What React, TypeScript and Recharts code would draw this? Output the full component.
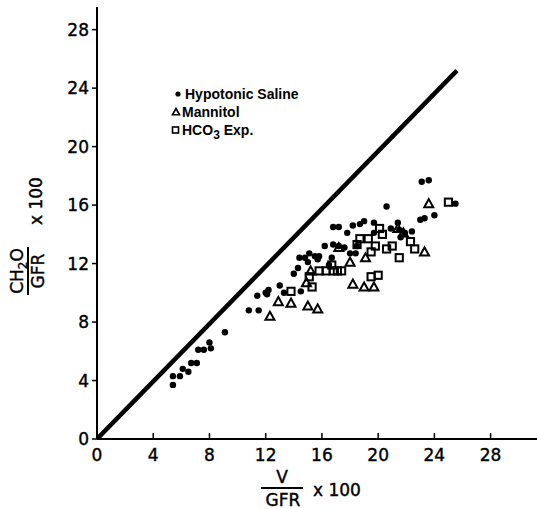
import { Legend, Scatter, ScatterChart, XAxis, YAxis } from "recharts";

const X_TICKS = [0, 4, 8, 12, 16, 20, 24, 28];
const Y_TICKS = [0, 4, 8, 12, 16, 20, 24, 28];

// [V/GFR x 100, CH2O/GFR x 100]
const HYPOTONIC_SALINE: [number, number][] = [
  [5.4, 3.7], [5.4, 4.3], [5.9, 4.3], [6.1, 4.8], [6.5, 4.6], [6.7, 5.2],
  [7.1, 5.2], [7.2, 6.1], [7.6, 6.1], [8.0, 6.6], [8.1, 6.2], [9.1, 7.3],
  [10.8, 8.8], [11.5, 8.8], [11.4, 9.8], [12.0, 10.0], [12.2, 10.2],
  [12.1, 9.9], [13.0, 10.5], [13.3, 10.0], [14.0, 11.3], [14.3, 11.7],
  [14.4, 12.4], [14.8, 12.4], [14.5, 10.1], [15.0, 12.1], [15.1, 12.7],
  [15.5, 12.5], [15.8, 12.5], [15.7, 12.3], [16.2, 13.2], [16.7, 12.4],
  [16.5, 11.9], [16.8, 14.5], [17.2, 14.5], [16.8, 13.3], [17.2, 13.2],
  [17.6, 13.1], [17.8, 14.1], [18.0, 12.7], [18.2, 14.6], [18.4, 12.7],
  [18.7, 14.7], [19.0, 14.9], [18.5, 13.2], [19.7, 14.8], [20.6, 15.9],
  [19.7, 14.1], [20.9, 14.4], [21.4, 14.8], [21.5, 14.3], [21.9, 14.1],
  [21.6, 13.8], [22.4, 14.2], [23.0, 15.0], [23.3, 15.1], [23.1, 17.6],
  [23.6, 17.7], [24.0, 15.3], [25.5, 16.1],
];

const MANNITOL: [number, number][] = [
  [12.3, 8.4], [12.9, 9.4], [13.8, 9.3], [15.0, 9.1], [15.7, 8.9],
  [14.9, 10.7], [15.2, 11.5], [17.2, 13.1], [18.0, 12.1], [18.2, 10.6],
  [19.0, 10.4], [19.7, 10.4], [19.1, 12.4], [21.4, 14.4], [21.8, 14.1],
  [23.3, 12.8], [23.6, 16.1],
];

const HCO3_EXP: [number, number][] = [
  [13.8, 10.1], [15.3, 10.4], [15.1, 11.1], [15.8, 11.5], [16.3, 11.5],
  [16.7, 11.9], [16.8, 11.5], [17.1, 11.5], [17.4, 11.5], [18.5, 13.3],
  [18.7, 13.7], [19.3, 13.7], [19.5, 12.8], [19.8, 13.2], [19.5, 11.1],
  [20.0, 11.2], [20.1, 14.4], [20.3, 14.0], [20.6, 13.0], [21.0, 13.2],
  [21.5, 12.4], [22.3, 13.5], [22.6, 13.0], [25.0, 16.2],
];

const IDENTITY_LINE: [number, number][] = [[0, 0], [25.6, 25.2]];

const toPoints = (rows: [number, number][]) => rows.map(([x, y]) => ({ x, y }));

const FONT = "'DejaVu Sans', sans-serif";

function DotShape({ cx, cy }: any) {
  return <circle cx={cx} cy={cy} r={3.2} fill="#000" />;
}

function TriangleShape({ cx, cy }: any) {
  const s = 4.5;
  return (
    <polygon
      points={`${cx},${cy - s} ${cx + s},${cy + s * 0.8} ${cx - s},${cy + s * 0.8}`}
      fill="none"
      stroke="#000"
      strokeWidth={2}
    />
  );
}

function SquareShape({ cx, cy }: any) {
  return (
    <rect x={cx - 3.6} y={cy - 3.6} width={7.2} height={7.2} fill="none" stroke="#000" strokeWidth={2} />
  );
}

function NoShape() {
  return <g />;
}

// x ticks point up into the plot, labels sit below
function XTick({ x, y, payload }: any) {
  return (
    <g>
      <line x1={x} x2={x} y1={y} y2={y - 6} stroke="#000" strokeWidth={1.5} />
      <text x={x} y={y + 22} textAnchor="middle" fontSize={17} fontFamily={FONT} fill="#000" stroke="#000" strokeWidth={0.4}>
        {payload.value}
      </text>
    </g>
  );
}

function XTitle({ viewBox }: any) {
  const cx = viewBox.x + 185;
  const top = viewBox.y;
  return (
    <g fontFamily={FONT} fontSize={17} fill="#000" stroke="#000" strokeWidth={0.4}>
      <text x={cx} y={top + 44} textAnchor="middle">V</text>
      <line x1={cx - 21} x2={cx + 21} y1={top + 49} y2={top + 49} stroke="#000" strokeWidth={2} />
      <text x={cx + 1} y={top + 67} textAnchor="middle">GFR</text>
      <text x={cx + 31} y={top + 57}>x 100</text>
    </g>
  );
}

function YTitle({ viewBox }: any) {
  const cx = 28;
  const cy = viewBox.y + 264;
  return (
    <g fontFamily={FONT} fontSize={17} fill="#000" stroke="#000" strokeWidth={0.4} transform={`rotate(-90, ${cx}, ${cy})`}>
      <text x={cx} y={cy - 5} textAnchor="middle">
        CH<tspan fontSize={12} dy={4}>2</tspan>
        <tspan dy={-4}>O</tspan>
      </text>
      <line x1={cx - 24} x2={cx + 24} y1={cy} y2={cy} stroke="#000" strokeWidth={2} />
      <text x={cx} y={cy + 16} textAnchor="middle">GFR</text>
      <text x={cx + 46} y={cy + 14}>x 100</text>
    </g>
  );
}

const LEGEND_ROWS = [
  { name: "Hypotonic Saline", mark: "dot" },
  { name: "Mannitol", mark: "triangle" },
  { name: "HCO3 Exp.", mark: "square" },
];

function LegendBox() {
  return (
    <svg width={150} height={68} style={{ display: "block" }}>
      {LEGEND_ROWS.map((row, i) => {
        const cy = 10 + i * 18;
        return (
          <g key={row.name}>
            {row.mark === "dot" && <circle cx={8} cy={cy} r={2.6} fill="#000" />}
            {row.mark === "triangle" && (
              <polygon points={`6,${cy - 3.5} 9.5,${cy + 2.8} 2.5,${cy + 2.8}`} fill="none" stroke="#000" strokeWidth={1.6} />
            )}
            {row.mark === "square" && (
              <rect x={2.5} y={cy - 3} width={6} height={6} fill="none" stroke="#000" strokeWidth={1.6} />
            )}
            <text
              x={row.mark === "dot" ? 15 : 12}
              y={cy + 5}
              fontFamily="'Liberation Sans', sans-serif"
              fontWeight="bold"
              fontSize={14}
              fill="#000"
            >
              {row.name === "HCO3 Exp." ? (
                <>
                  HCO<tspan dy={4} fontSize={12}>3</tspan>
                  <tspan dy={-4}> Exp.</tspan>
                </>
              ) : (
                row.name
              )}
            </text>
          </g>
        );
      })}
    </svg>
  );
}

export default function App() {
  return (
    <div style={{ position: "absolute", left: 0, top: 0, width: 537, height: 509, background: "#fff" }}>
      <ScatterChart width={537} height={509} margin={{ top: 7, right: 0, bottom: 0, left: 0 }}>
        <XAxis
          type="number"
          dataKey="x"
          domain={[0, 31.3]}
          ticks={X_TICKS}
          interval={0}
          allowDataOverflow
          height={70}
          tickSize={0}
          tickMargin={0}
          tickLine={false}
          tick={<XTick />}
          axisLine={{ stroke: "#000", strokeWidth: 2 }}
          label={<XTitle />}
        />
        <YAxis
          type="number"
          dataKey="y"
          domain={[0, 29.55]}
          ticks={Y_TICKS}
          interval={0}
          allowDataOverflow
          width={97}
          tickSize={5}
          tickMargin={3}
          tick={{ fontSize: 17, fontFamily: FONT, fill: "#000", stroke: "#000", strokeWidth: 0.4 }}
          tickLine={{ stroke: "#000", strokeWidth: 1.5 }}
          axisLine={{ stroke: "#000", strokeWidth: 2 }}
          label={<YTitle />}
        />
        <Legend
          layout="vertical"
          align="center"
          verticalAlign="middle"
          content={<LegendBox />}
          wrapperStyle={{ left: 170, top: 84, width: 150 }}
        />
        <Scatter
          name="Identity"
          data={toPoints(IDENTITY_LINE)}
          line={{ stroke: "#000", strokeWidth: 4.5 }}
          shape={<NoShape />}
          legendType="none"
          isAnimationActive={false}
        />
        <Scatter name="Hypotonic Saline" data={toPoints(HYPOTONIC_SALINE)} shape={<DotShape />} isAnimationActive={false} />
        <Scatter name="Mannitol" data={toPoints(MANNITOL)} shape={<TriangleShape />} isAnimationActive={false} />
        <Scatter name="HCO3 Exp." data={toPoints(HCO3_EXP)} shape={<SquareShape />} isAnimationActive={false} />
      </ScatterChart>
    </div>
  );
}
